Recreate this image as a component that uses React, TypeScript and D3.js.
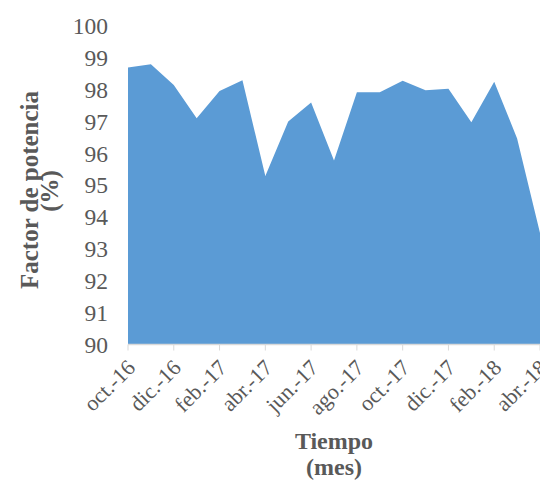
import React from "react";
import * as d3 from "d3";

const months = ["oct.-16","nov.-16","dic.-16","ene.-17","feb.-17","mar.-17","abr.-17","may.-17","jun.-17","jul.-17","ago.-17","sep.-17","oct.-17","nov.-17","dic.-17","ene.-18","feb.-18","mar.-18","abr.-18"];
const factor = [98.7,98.8,98.15,97.1,97.96,98.3,95.29,97.0,97.6,95.78,97.92,97.92,98.28,97.98,98.03,96.98,98.25,96.47,93.5];
const yTicks = [90,91,92,93,94,95,96,97,98,99,100];

const W = 540, H = 480;
const FONT = "'Liberation Serif', 'Times New Roman', serif";

export default function App() {
  const x = d3.scaleLinear().domain([0, months.length - 1]).range([128, 540]);
  const y = d3.scaleLinear().domain([90, 100]).range([344.5, 26]);
  const area = d3.area<number>().x((_, i) => x(i)).y0(y(90)).y1(d => y(d));
  const tickIdx = months.map((_, i) => i).filter(i => i % 2 === 0);
  return (
    <svg width={W} height={H} style={{ position: "absolute", left: 0, top: 0, background: "#fff" }}>
      <path d={area(factor) || ""} fill="#5B9BD5" />
      <line x1={x(0)} x2={W} y1={y(90)} y2={y(90)} stroke="#D9D9D9" strokeWidth={1.5} />
      {tickIdx.map(i => (
        <line key={"t" + i} x1={x(i)} x2={x(i)} y1={y(90)} y2={y(90) + 6} stroke="#D9D9D9" strokeWidth={1} />
      ))}
      {yTicks.map(t => (
        <text key={t} x={108} y={y(t)} dy="0.35em" textAnchor="end" fontFamily={FONT} fontSize={23.5} fill="#595959">{t}</text>
      ))}
      {tickIdx.map(i => (
        <text key={"l" + i} transform={`translate(${x(i) + 3},${y(90) + 19}) rotate(-45)`} textAnchor="end" dy="0.35em" fontFamily={FONT} fontSize={22} fill="#595959">{months[i]}</text>
      ))}
      <text x={334} y={449} textAnchor="middle" fontFamily={FONT} fontSize={24} fontWeight="bold" fill="#595959">Tiempo</text>
      <text x={334} y={475} textAnchor="middle" fontFamily={FONT} fontSize={24} fontWeight="bold" fill="#595959">(mes)</text>
      <text transform="translate(38,190) rotate(-90)" textAnchor="middle" fontFamily={FONT} fontSize={25} fontWeight="bold" fill="#595959">Factor de potencia</text>
      <text transform="translate(58,191) rotate(-90)" textAnchor="middle" fontFamily={FONT} fontSize={25} fontWeight="bold" fill="#595959">(%)</text>
    </svg>
  );
}
